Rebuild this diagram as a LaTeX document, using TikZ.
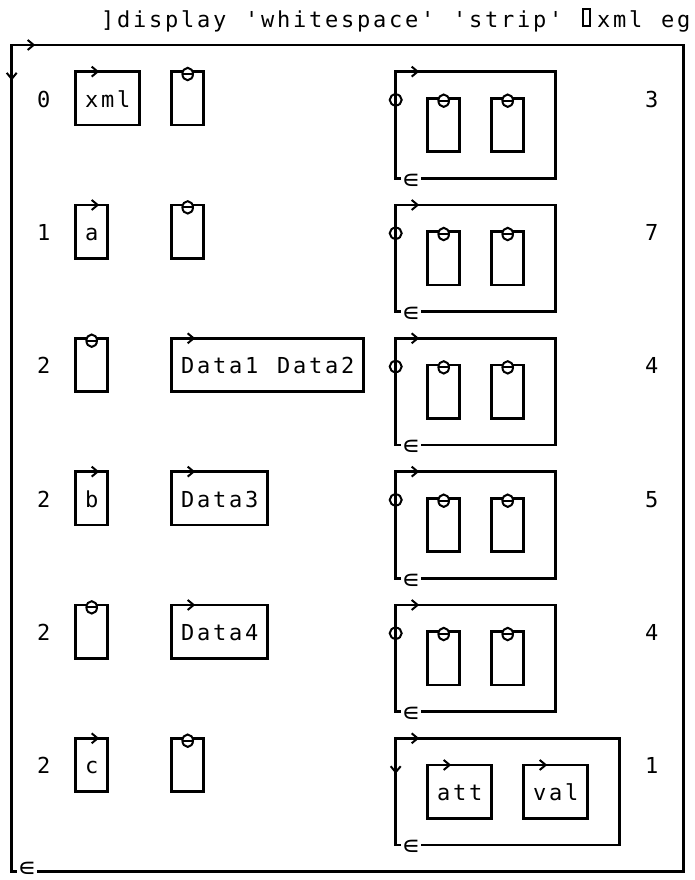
\documentclass[tikz,border=0pt]{standalone}
\usepackage{fontspec}
\newfontfamily\aplfont{DejaVu Sans Mono}
\newfontfamily\symfont{DejaVu Sans}
\usetikzlibrary{arrows.meta}
\tikzset{
  bx/.style={line width=2.5pt, line join=miter},
  ch/.style={font=\aplfont\fontsize{22}{26}\selectfont, inner sep=0pt, anchor=base},
  tip/.style={line width=2.3pt, -{Straight Barb[length=6pt,width=10pt,line width=2pt]}},
  epsn/.style={font=\symfont\fontsize{26}{30}\selectfont, fill=white, inner sep=0.6pt},
}
% place a string, one character per grid cell
\newcommand\gtxt[3]{\def\gcol{#1}\def\grow{#2}\gloop#3\relax}
\def\gloop#1{\ifx#1\relax\else\node[ch] at (\gcol,\grow+0.33) {#1};\pgfmathsetmacro\gcol{\gcol+1}\expandafter\gloop\fi}
% right arrow on a horizontal line, tip at column c+0.47
\newcommand\rarrow[2]{\draw[tip] (#1-0.45,#2) -- (#1+0.47,#2);}
% down arrow on a vertical line
\newcommand\darrow[2]{\draw[tip] (#1,#2-0.45) -- (#1,#2+0.33);}
% zilde mark on a top line
\newcommand\zmark[2]{\draw[line width=2pt,fill=white] (#1,#2+0.09) ellipse[x radius=5.3pt,y radius=6.2pt];
  \draw[line width=1.9pt] (#1,#2+0.09) ++(-5.3pt,0) -- ++(10.6pt,0);}
% circle-stile mark on a left line
\newcommand\cmark[2]{\draw[line width=2pt] (#1,#2+0.06) ellipse[x radius=6pt,y radius=5.6pt];}
% epsilon mark on a bottom line
\newcommand\emark[2]{\node[epsn] at (#1-0.05,#2+0.1) {∊};}
% empty (zilde) box centred on column c, rows r..r+2
\newcommand\zbox[2]{\draw[bx] (#1-1,#2) rectangle (#1+1,#2+2); \zmark{#1}{#2}}
% character box, columns c1..c2, rows r..r+2
\newcommand\cbox[3]{\draw[bx] (#1,#2) rectangle (#3,#2+2); \rarrow{#1+1}{#2}}
% standard inner nested box starting at row b
\newcommand\inner[1]{\draw[bx] (24,#1) rectangle (34,#1+4); \rarrow{25}{#1}
  \cmark{24}{#1+1} \emark{25}{#1+4} \zbox{27}{#1+1} \zbox{31}{#1+1}}
\begin{document}
\begin{tikzpicture}[x=16pt,y=-26.6667pt]
\useasboundingbox[fill=white] (-0.73125,-0.68625) rectangle (42.70625,32.31375);
% header
\gtxt{6}{0}{]display}
\gtxt{15}{0}{'whitespace'}
\gtxt{28}{0}{'strip'}
% APL quad symbol (no installed family has the glyph): drawn as a shape
\draw[line width=2pt] (35.9,-0.03) ++(-3.4pt,-8.5pt) rectangle ++(6.8pt,17pt);
\gtxt{37}{0}{xml}
\gtxt{41}{0}{eg}
% outer box
\draw[bx] (0,1) rectangle (42,32);
\rarrow{1}{1}
\darrow{0}{2}
\node[epsn] (eout) at (0.95,31.93) {∊};
% block 0
\gtxt{2}{3}{0}
\cbox{4}{2}{8} \gtxt{5}{3}{xml}
\zbox{11}{2}
\inner{2}
\gtxt{40}{3}{3}
% block 1
\gtxt{2}{8}{1}
\cbox{4}{7}{6} \gtxt{5}{8}{a}
\zbox{11}{7}
\inner{7}
\gtxt{40}{8}{7}
% block 2
\gtxt{2}{13}{2}
\zbox{5}{12}
\cbox{10}{12}{22} \gtxt{11}{13}{Data1} \gtxt{17}{13}{Data2}
\inner{12}
\gtxt{40}{13}{4}
% block 3
\gtxt{2}{18}{2}
\cbox{4}{17}{6} \gtxt{5}{18}{b}
\cbox{10}{17}{16} \gtxt{11}{18}{Data3}
\inner{17}
\gtxt{40}{18}{5}
% block 4
\gtxt{2}{23}{2}
\zbox{5}{22}
\cbox{10}{22}{16} \gtxt{11}{23}{Data4}
\inner{22}
\gtxt{40}{23}{4}
% block 5
\gtxt{2}{28}{2}
\cbox{4}{27}{6} \gtxt{5}{28}{c}
\zbox{11}{27}
\draw[bx] (24,27) rectangle (38,31);
\rarrow{25}{27}
\darrow{24}{28}
\emark{25}{31}
\cbox{26}{28}{30} \gtxt{27}{29}{att}
\cbox{32}{28}{36} \gtxt{33}{29}{val}
\gtxt{40}{28}{1}
\end{tikzpicture}
\end{document}
